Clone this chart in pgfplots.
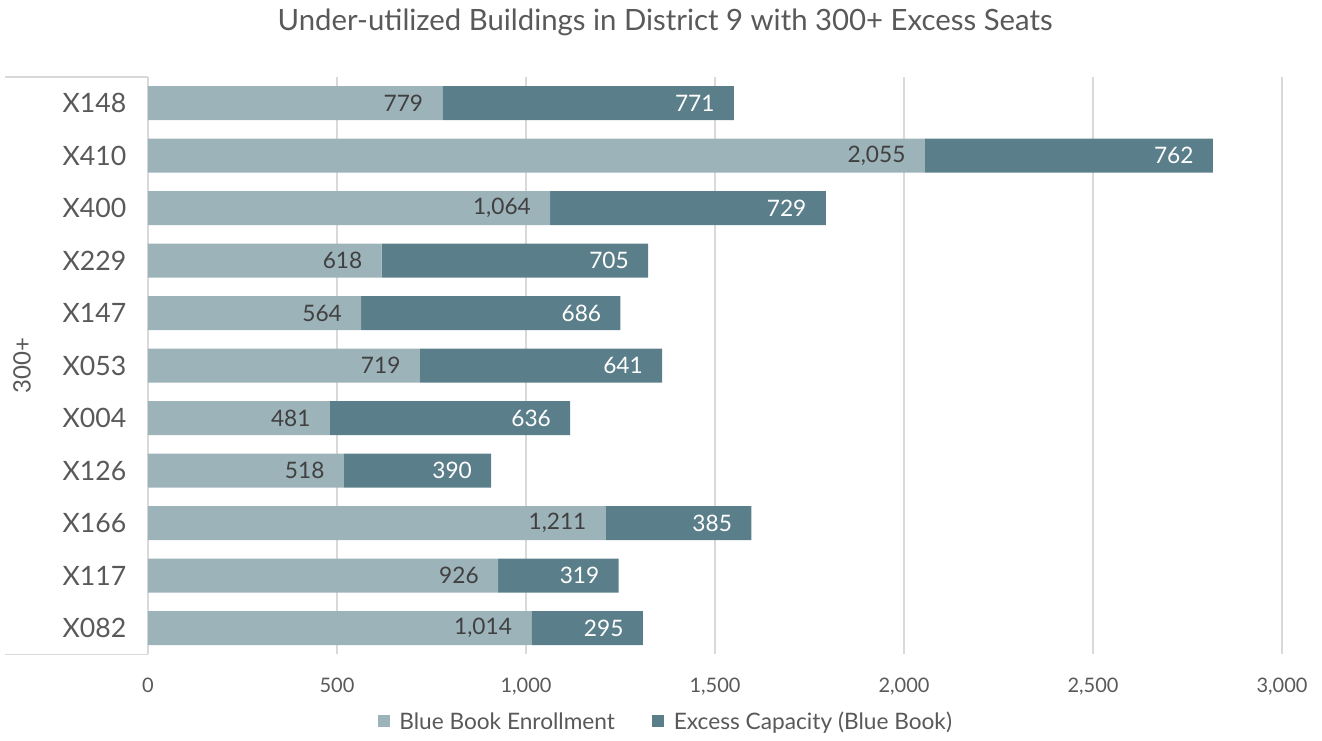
\documentclass[border=0pt]{standalone}
\usepackage{pgfplots}
\pgfplotsset{compat=1.18}
\usepackage{fontspec}
\setmainfont{Lato}
\definecolor{lightbar}{HTML}{9DB3BA}
\definecolor{darkbar}{HTML}{5B7F8A}
\definecolor{txt}{HTML}{595959}
\definecolor{lbl}{HTML}{404040}
\definecolor{gridc}{HTML}{D9D9D9}
\begin{document}
\begin{tikzpicture}
\useasboundingbox (-111pt,-64.3pt) rectangle (880.5pt,490.7pt);
\begin{axis}[
  at={(0,0)}, anchor=south west,
  scale only axis, width=850.5pt, height=433.1pt,
  xbar stacked, bar width=25.5pt,
  xmin=0, xmax=3000,
  ymin=-0.5, ymax=10.5, y dir=reverse,
  ytick={0,...,10},
  yticklabels={X148,X410,X400,X229,X147,X053,X004,X126,X166,X117,X082},
  xtick={0,500,...,3000},
  axis line style={draw=none},
  xmajorgrids, grid style={gridc, line width=1.1pt},
  major tick length=0pt,
  tick style={draw=none},
  /pgf/number format/assume math mode=true,
  /pgf/number format/1000 sep={,},
  yticklabel style={font=\fontsize{20}{22}\selectfont, text=txt, inner sep=0pt, xshift=-16pt},
  xticklabel style={font=\fontsize{15}{17}\selectfont, text=txt, yshift=-14pt},
  point meta=explicit,
  visualization depends on={rawx \as \rawx},
  nodes near coords,
  every node near coord/.append style={anchor=east, xshift={\rawx*0.14175pt-11pt}, font=\fontsize{17}{19}\selectfont},
  legend style={at={(0.457,-0.117)}, anchor=center, draw=none, legend columns=2,
    font=\fontsize{17}{19}\selectfont, text=txt,
    /tikz/every odd column/.append style={column sep=5pt},
    /tikz/every even column/.append style={column sep=26pt}},
  legend image code/.code={\fill[#1] (0cm,-0.14cm) rectangle (0.32cm,0.18cm);},
  clip=false,
]
\addplot[fill=lightbar, draw=none, every node near coord/.append style={text=lbl}] coordinates {
(779,0) [779] (2055,1) [2055] (1064,2) [1064] (618,3) [618] (564,4) [564] (719,5) [719]
(481,6) [481] (518,7) [518] (1211,8) [1211] (926,9) [926] (1014,10) [1014]};
\addplot[fill=darkbar, draw=none, every node near coord/.append style={text=white}] coordinates {
(771,0) [771] (762,1) [762] (729,2) [729] (705,3) [705] (686,4) [686] (641,5) [641]
(636,6) [636] (390,7) [390] (385,8) [385] (319,9) [319] (295,10) [295]};
\legend{Blue Book Enrollment, Excess Capacity (Blue Book)}
\draw[gridc, line width=1.1pt] (rel axis cs:0,0) -- (rel axis cs:0,1);
\draw[gridc, line width=1.1pt] (rel axis cs:0,0) -- ++(-107pt,0pt);
\draw[gridc, line width=1.1pt] (rel axis cs:0,1) -- ++(-107pt,0pt);
\node[rotate=90, text=txt, font=\fontsize{18}{20}\selectfont] at ([xshift=-94.5pt]rel axis cs:0,0.5) {300+};
\node[text=txt, font=\fontsize{22}{24}\selectfont] at ([yshift=41pt]rel axis cs:0.456,1) {Under-utilized Buildings in District 9 with 300+ Excess Seats};
\end{axis}
\end{tikzpicture}
\end{document}
